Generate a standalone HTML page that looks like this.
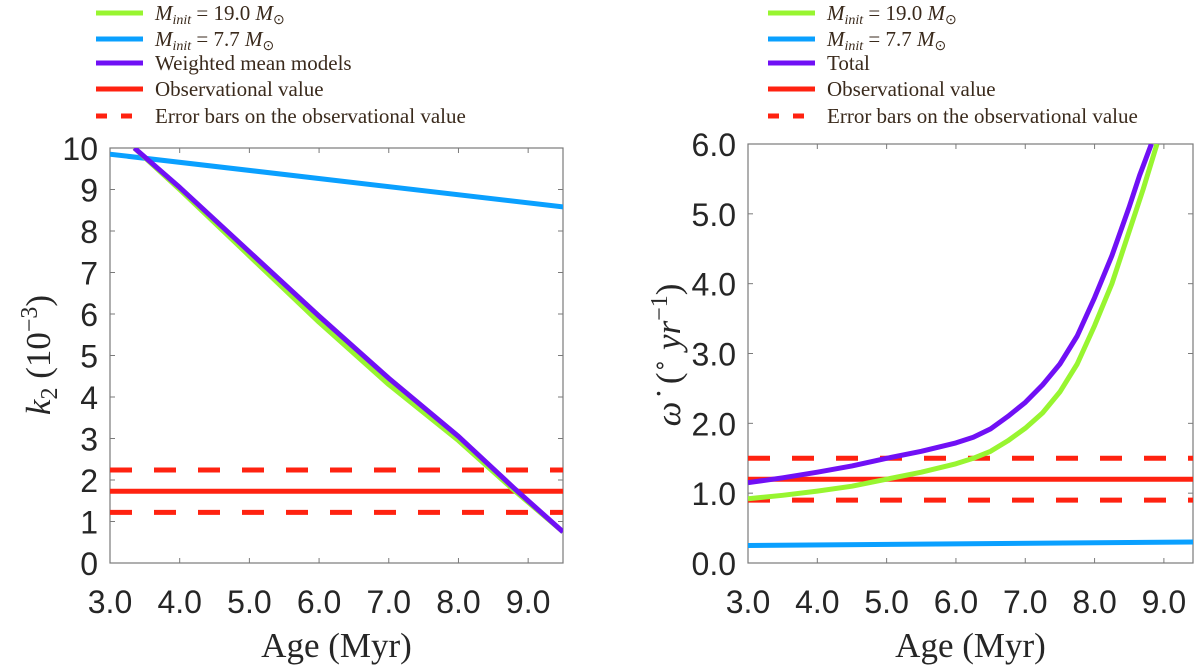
<!DOCTYPE html>
<html><head><meta charset="utf-8"><style>
body{margin:0;background:#fff;}
svg{display:block;}
.tk{font-family:"Liberation Sans",sans-serif;font-size:32px;fill:#262626;}
.lg{font-family:"Liberation Serif",serif;font-size:21px;fill:#3a2a1c;}
.ax{font-family:"Liberation Serif",serif;font-size:35px;fill:#262626;}
</style></head><body>
<svg id="chart" width="1200" height="668" viewBox="0 0 1200 668"></svg>
<script>
// Left panel data
const leftAges = [3.0,9.5];
const leftBlue = [9.85,8.58];
const leftGreenX = [3.35,4.0,5.0,6.0,7.0,8.0,8.8,9.5];
const leftGreen = [10.0,9.0,7.4,5.8,4.3,2.95,1.75,0.75];
const leftPurpleX = [3.35,4.0,5.0,6.0,7.0,8.0,8.8,9.5];
const leftPurple = [10.0,9.05,7.5,5.95,4.45,3.05,1.8,0.75];
const leftObs = [1.73];
const leftErr = [2.24,1.22];
const leftYTicks = [0,1,2,3,4,5,6,7,8,9,10];
const xTicks = [3,4,5,6,7,8,9];
const xTickLabels = ["3.0","4.0","5.0","6.0","7.0","8.0","9.0"];
// Right panel data
const rightAges = [3.0,9.42];
const rightBlue = [0.25,0.30];
const rightGreenX = [3.0,3.5,4.0,4.5,5.0,5.5,6.0,6.25,6.5,6.75,7.0,7.25,7.5,7.75,8.0,8.25,8.5,8.7,8.9];
const rightGreen = [0.92,0.97,1.03,1.1,1.2,1.3,1.42,1.5,1.6,1.75,1.93,2.15,2.45,2.85,3.4,4.0,4.75,5.35,6.0];
const rightPurpleX = [3.0,3.5,4.0,4.5,5.0,5.5,6.0,6.25,6.5,6.75,7.0,7.25,7.5,7.75,8.0,8.25,8.5,8.65,8.82];
const rightPurple = [1.15,1.22,1.3,1.39,1.5,1.6,1.72,1.8,1.92,2.1,2.3,2.55,2.85,3.25,3.8,4.4,5.1,5.55,6.0];
const rightObs = [1.2];
const rightErr = [1.5,0.9];
const rightYTicks = [0,1,2,3,4,5,6];
const rightYLabels = ["0.0","1.0","2.0","3.0","4.0","5.0","6.0"];

const NS="http://www.w3.org/2000/svg";
const svg=document.getElementById('chart');
function mk(tag,attrs,parent){const e=document.createElementNS(NS,tag);for(const k in attrs)e.setAttribute(k,attrs[k]);(parent||svg).appendChild(e);return e;}

function panel(p){
  const g=mk('g',{});
  
  
  const sx=v=>p.x0+(v-p.xmin)/(p.xmax-p.xmin)*(p.x1-p.x0);
  const sy=v=>p.y0-(v-p.ymin)/(p.ymax-p.ymin)*(p.y0-p.y1);
  const clip='clip-'+p.name;
  const cp=mk('clipPath',{id:clip},g);mk('rect',{x:p.x0,y:p.y1,width:p.x1-p.x0,height:p.y0-p.y1},cp);
  const frame=mk('rect',{x:p.x0,y:p.y1,width:p.x1-p.x0,height:p.y0-p.y1,fill:'none',stroke:'#7a7a7a','stroke-width':1.2},g);
  
  
  xTicks.forEach((t,i)=>{
    const x=sx(t);
    mk('line',{x1:x,x2:x,y1:p.y0,y2:p.y0-5,stroke:'#7a7a7a'},g);
    mk('line',{x1:x,x2:x,y1:p.y1,y2:p.y1+5,stroke:'#7a7a7a'},g);
    const tx=mk('text',{x:x,y:p.y0+50,'text-anchor':'middle',class:'tk'},g);tx.textContent=xTickLabels[i];
    
    
  });
  p.yticks.forEach((t,i)=>{
    const y=sy(t);
    mk('line',{x1:p.x0,x2:p.x0+5,y1:y,y2:y,stroke:'#7a7a7a'},g);
    mk('line',{x1:p.x1,x2:p.x1-5,y1:y,y2:y,stroke:'#7a7a7a'},g);
    const tx=mk('text',{x:p.x0-12,y:y+12,'text-anchor':'end',class:'tk'},g);tx.textContent=p.ylabels[i];
    
    
  });
  const d=g.appendChild(document.createElementNS(NS,'g'));d.setAttribute('clip-path','url(#'+clip+')');
  function hline(v,dash,name){
    const l=mk('line',{x1:p.x0,x2:p.x1,y1:sy(v),y2:sy(v),stroke:'#ff2210','stroke-width':5},d);
    if(dash)l.setAttribute('stroke-dasharray','22 22');
    
    
  }
  p.err.forEach(v=>hline(v,true,'error-bar-line'));
  hline(p.obs[0],false,'observational-line');
  function series(xs,ys,color,name){
    const pts=xs.map((x,i)=>sx(x).toFixed(1)+','+sy(ys[i]).toFixed(1)).join(' ');
    const l=mk('polyline',{points:pts,fill:'none',stroke:color,'stroke-width':5,'stroke-linejoin':'round'},d);
    
    
  }
  series(p.ages,p.blue,'#0aa0ff','series-7-7-msun');
  series(p.gx,p.green,'#98f530','series-19-msun');
  series(p.px,p.purple,'#7010f5','series-'+p.pname);
  const xl=mk('text',{x:(p.x0+p.x1)/2,y:657,'text-anchor':'middle',class:'ax'},g);xl.textContent='Age (Myr)';
  
  
  const items=[['#98f530',false,'M','init',' = 19.0 M','⊙'],['#0aa0ff',false,'M','init',' = 7.7 M','⊙'],['#7010f5',false,p.plabel],['#ff2210',false,'Observational value'],['#ff2210',true,'Error bars on the observational value']];
  const ys=[13,39,63,89,116];
  items.forEach((it,i)=>{
    const le=mk('g',{},g);
    
    
    const l=mk('line',{x1:p.lx,x2:p.lx+47,y1:ys[i],y2:ys[i],stroke:it[0],'stroke-width':5},le);
    if(it[1])l.setAttribute('stroke-dasharray','11 14');
    const t=mk('text',{x:p.lx+59,y:ys[i]+7,class:'lg'},le);
    if(it.length>3&&it[3]){
      t.innerHTML='<tspan font-style="italic">M</tspan><tspan font-style="italic" font-size="14" dy="4">init</tspan><tspan dy="-4">'+it[4].replace(' M','&#160;</tspan><tspan font-style="italic">M</tspan><tspan font-size="14" dy="4">⊙</tspan>');
    } else t.textContent=it[2];
  });
  return {sx,sy};
}
panel({name:'left-panel',x0:110,x1:563,y0:563,y1:148,xmin:3,xmax:9.5,ymin:0,ymax:10,yticks:leftYTicks,ylabels:leftYTicks.map(String),
  ages:leftAges,blue:leftBlue,gx:leftGreenX,green:leftGreen,px:leftPurpleX,purple:leftPurple,obs:leftObs,err:leftErr,lx:96,plabel:'Weighted mean models',pname:'weighted-mean'});
panel({name:'right-panel',x0:748,x1:1193,y0:563,y1:144,xmin:3,xmax:9.42,ymin:0,ymax:6,yticks:rightYTicks,ylabels:rightYLabels,
  ages:rightAges,blue:rightBlue,gx:rightGreenX,green:rightGreen,px:rightPurpleX,purple:rightPurple,obs:rightObs,err:rightErr,lx:768,plabel:'Total',pname:'total'});
const yl=mk('text',{transform:'translate(50,355) rotate(-90)','text-anchor':'middle',class:'ax'});
yl.innerHTML='<tspan font-style="italic">k</tspan><tspan font-size="24" dy="7">2</tspan><tspan dy="-7">&#160;(10</tspan><tspan font-size="24" dy="-13">−3</tspan><tspan dy="13">)</tspan>';


const yr=mk('text',{transform:'translate(680,355) rotate(-90)','text-anchor':'middle',class:'ax'});
yr.innerHTML='<tspan font-style="italic">ω̇</tspan><tspan>&#160;&#160;(</tspan><tspan font-size="22" dy="-13">∘</tspan><tspan dy="13" font-style="italic">&#160;yr</tspan><tspan font-size="24" dy="-13">−1</tspan><tspan dy="13">)</tspan>';


</script>
</body></html>
